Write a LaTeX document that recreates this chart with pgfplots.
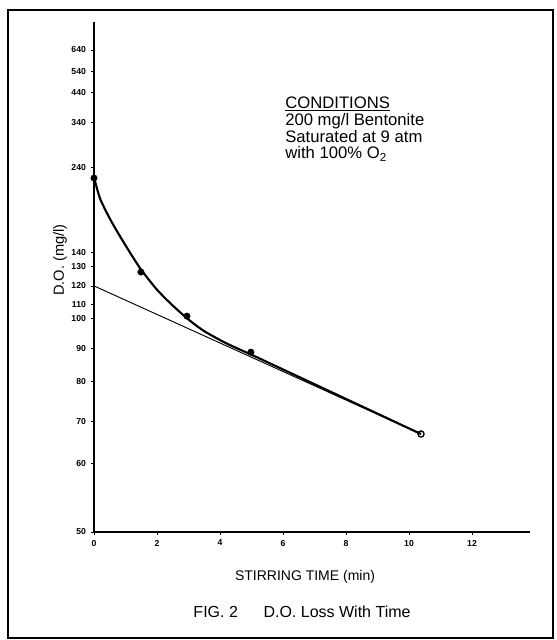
\documentclass[border=0pt]{standalone}
\usepackage{pgfplots}
\pgfplotsset{compat=1.18}
\usepackage{fontspec}
\setmainfont{Liberation Sans}

\begin{document}
\begin{tikzpicture}[x=0.75pt,y=0.75pt]
\useasboundingbox (0,0) rectangle (557,640);
\draw[line width=1.6pt] (8,2) rectangle (553,630);
\begin{axis}[
    at={(70.5pt,81pt)}, anchor=south west,
    scale only axis, width=327pt, height=382.5pt,
    ymode=log, ymin=47.1, ymax=283.6,
    xmin=0, xmax=13.84,
    axis lines=left,
    axis line style={-, line width=1.3pt},
    xtick={0,2,...,12},
    ytick={47.1,60,69.6,80,90,100,105,112,120,126,170,199,221,238,257},
    yticklabels={50,60,70,80,90,100,110,120,130,140,240,340,440,540,640},
    yminorticks=false, xminorticks=false,
    tick align=outside, major tick length=2.5pt,
    tick style={line width=0.6pt, black},
    ticklabel style={font=\fontsize{6.5}{7}\selectfont\bfseries},
    /pgf/number format/assume math mode=true,
    clip=false,
]
% thin semilog line
\addplot[line width=0.7pt] coordinates {(0,112) (10.38,66.5)};
% thick fitted curve
\addplot[line width=1.6pt, smooth, tension=0.4] coordinates {
    (0.03,162) (0.2,152) (0.5,142) (0.8,134) (1.14,126)
    (1.5,118.5) (2.0,110.5) (2.5,104.5) (3.0,99.5) (3.5,95.5)
    (4.2,91.5) (5.0,87.9)};
\addplot[line width=1.6pt] coordinates {(5.0,87.9) (10.38,66.5)};
% measured points
\addplot[only marks, mark=*, mark size=2.4pt] coordinates {
    (0,163.7) (1.49,117.6) (2.95,100.7) (4.98,88.7)};
\addplot[only marks, mark=o, mark size=2.3pt, line width=1pt, mark options={fill=white}] coordinates {(10.38,66.5)};
\node[anchor=north west, align=left, font=\fontsize{12.5}{12.5}\selectfont]
    at (rel axis cs:0.428,0.862)
    {\underline{CONDITIONS}\\200 mg/l Bentonite\\Saturated at 9 atm\\with 100\% O\textsubscript{2}};
\end{axis}
\node[font=\fontsize{10.5}{12}\selectfont] at (305,63) {STIRRING TIME (min)};
\node[font=\fontsize{11}{12}\selectfont, rotate=90] at (60,380) {D.O. (mg/l)};
\node[font=\fontsize{12}{13}\selectfont] at (302,28) {FIG. 2\hspace{1.6em}D.O. Loss With Time};
\end{tikzpicture}
\end{document}
